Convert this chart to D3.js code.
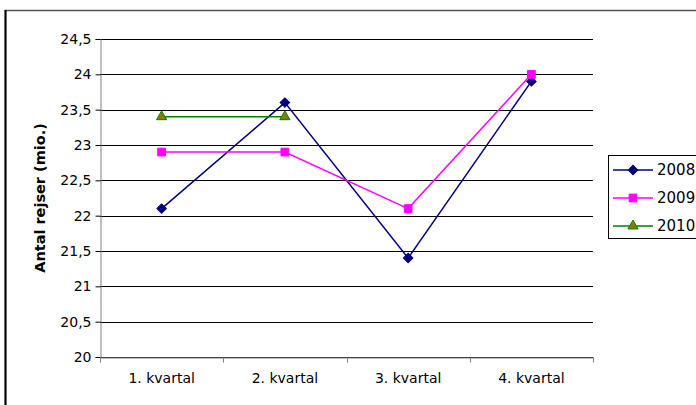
<!DOCTYPE html>
<html>
<head>
<meta charset="utf-8">
<script src="https://cdn.jsdelivr.net/npm/d3@7"></script>
<style>
 body { margin: 0; background: #fff; }
 svg { display: block; font-family: "DejaVu Sans", sans-serif; }
</style>
</head>
<body>
<script>
 // Antal rejser pr. kvartal (mio.)

 // data
 var quarters = ["1. kvartal", "2. kvartal", "3. kvartal", "4. kvartal"];
 var years = ["2008", "2009", "2010"];
 var values2008 = [22.1, 23.6, 21.4, 23.9];
 var values2009 = [22.9, 22.9, 22.1, 24.0];
 var values2010 = [23.4, 23.4];
 var yTicks = [20, 20.5, 21, 21.5, 22, 22.5, 23, 23.5, 24, 24.5];

 var width = 696,
 	height = 405;

 // plot area
 var margin = {
 	top: 39,
 	left: 100,
 	right: 593,
 	bottom: 357
 };

 var svg = d3.select("body").append("svg")
 	.attr("width", width)
 	.attr("height", height);

 // outer frame of the chart (cut off at the right and bottom)
 svg.append("rect")
 	.attr("x", 5.5)
 	.attr("y", 10.5)
 	.attr("width", 720)
 	.attr("height", 420)
 	.attr("fill", "none")
 	.attr("stroke", "#555")
 	.attr("stroke-width", 1.5);
 svg.append("line")
 	.attr("x1", 5.5).attr("x2", 5.5)
 	.attr("y1", 10).attr("y2", height)
 	.attr("stroke", "#000")
 	.attr("stroke-width", 2);

 var x = d3.scaleBand()
 	.domain(quarters)
 	.range([margin.left, margin.right]);

 var y = d3.scaleLinear()
 	.domain([20, 24.5])
 	.range([margin.bottom, margin.top]);

 var fmt = function (d) {
 	return String(d).replace(".", ",");
 };

 // gridlines
 svg.append("g")
 	.selectAll("line")
 	.data(yTicks)
 	.enter().append("line")
 	.attr("x1", margin.left)
 	.attr("x2", margin.right)
 	.attr("y1", function (d) { return Math.round(y(d)) + 0.5; })
 	.attr("y2", function (d) { return Math.round(y(d)) + 0.5; })
 	.attr("stroke", "#000")
 	.attr("stroke-width", 1);

 // y axis
 var yAxis = svg.append("g")
 	.attr("transform", "translate(" + (margin.left + 0.5) + ",0)")
 	.call(d3.axisLeft(y).tickValues(yTicks).tickFormat(fmt).tickSize(5).tickPadding(4));
 yAxis.select(".domain").attr("stroke", "#808080");
 yAxis.selectAll(".tick line").attr("stroke", "#000");
 yAxis.selectAll("text")
 	.attr("fill", "#000")
 	.style("font-size", "14px")
 	.style("font-family", "DejaVu Sans, sans-serif");

 // x axis
 var xAxis = svg.append("g")
 	.attr("transform", "translate(0," + (margin.bottom + 0.5) + ")")
 	.call(d3.axisBottom(x).tickSize(0).tickPadding(16));
 xAxis.select(".domain").attr("stroke", "#808080");
 xAxis.selectAll("text")
 	.attr("fill", "#000")
 	.style("font-size", "14px")
 	.style("font-family", "DejaVu Sans, sans-serif");
 // tick marks sit between the categories
 xAxis.selectAll(".boundary")
 	.data(quarters.concat(["end"]))
 	.enter().append("line")
 	.attr("class", "boundary")
 	.attr("x1", function (d, i) { return Math.round(margin.left + i * x.bandwidth()) + 0.5; })
 	.attr("x2", function (d, i) { return Math.round(margin.left + i * x.bandwidth()) + 0.5; })
 	.attr("y1", 0)
 	.attr("y2", 5)
 	.attr("stroke", "#808080");

 // y axis title
 svg.append("text")
 	.attr("transform", "translate(40," + ((margin.top + margin.bottom) / 2) + ") rotate(-90)")
 	.attr("text-anchor", "middle")
 	.attr("dy", "0.35em")
 	.style("font-size", "14.5px")
 	.style("font-weight", "bold")
 	.text("Antal rejser (mio.)");

 var cx = function (i) {
 	return x(quarters[i]) + x.bandwidth() / 2;
 };

 var series = [
 	{ name: years[0], values: values2008, stroke: "#000080", fill: "#000080", shape: d3.symbolSquare, size: 45, rotate: 45 },
 	{ name: years[1], values: values2009, stroke: "#ff00ff", fill: "#ff00ff", shape: d3.symbolSquare, size: 60, rotate: 0 },
 	{ name: years[2], values: values2010, stroke: "#008000", fill: "#808000", shape: d3.symbolTriangle, size: 45, rotate: 0 }
 ];

 var line = d3.line()
 	.x(function (d, i) { return cx(i); })
 	.y(function (d) { return y(d); });

 series.forEach(function (s) {
 	svg.append("path")
 		.datum(s.values)
 		.attr("fill", "none")
 		.attr("stroke", s.stroke)
 		.attr("stroke-width", 1.5)
 		.attr("d", line);

 	svg.append("g")
 		.selectAll("path")
 		.data(s.values)
 		.enter().append("path")
 		.attr("transform", function (d, i) {
 			return "translate(" + cx(i) + "," + y(d) + ") rotate(" + s.rotate + ")";
 		})
 		.attr("d", d3.symbol().type(s.shape).size(s.size))
 		.attr("fill", s.fill)
 		.attr("stroke", s.stroke)
 		.attr("stroke-width", 1);
 });

 // legend
 var legendBox = svg.append("g").attr("transform", "translate(608,155)");
 legendBox.append("rect")
 	.attr("x", 0.5)
 	.attr("y", 0.5)
 	.attr("width", 100)
 	.attr("height", 83)
 	.attr("fill", "#fff")
 	.attr("stroke", "#000");

 var legend = legendBox.selectAll(".entry")
 	.data(series)
 	.enter().append("g")
 	.attr("class", "entry")
 	.attr("transform", function (d, i) {
 		return "translate(0," + (15 + i * 28) + ")";
 	});

 legend.append("line")
 	.attr("x1", 5)
 	.attr("x2", 45)
 	.attr("stroke", function (d) { return d.stroke; })
 	.attr("stroke-width", 1.5);

 legend.append("path")
 	.attr("transform", function (d) { return "translate(25,0) rotate(" + d.rotate + ")"; })
 	.attr("d", function (d) { return d3.symbol().type(d.shape).size(d.size)(); })
 	.attr("fill", function (d) { return d.fill; })
 	.attr("stroke", function (d) { return d.stroke; });

 legend.append("text")
 	.attr("x", 49)
 	.attr("dy", "0.35em")
 	.style("font-size", "15px")
 	.text(function (d) { return d.name; });
</script>
</body>
</html>
